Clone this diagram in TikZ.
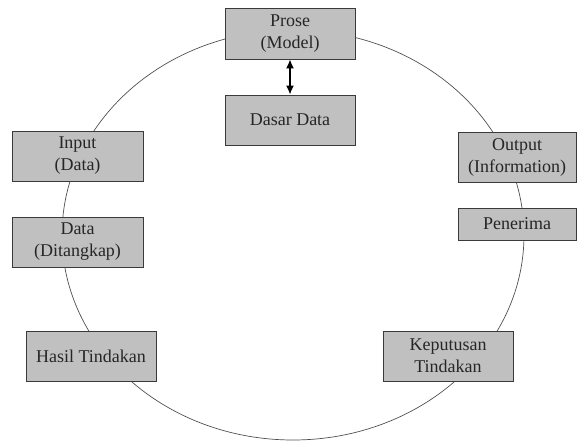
\documentclass[tikz,border=0pt]{standalone}
\usepackage{fontspec}
\setmainfont{Liberation Serif}
\usetikzlibrary{arrows.meta}
\definecolor{boxfill}{HTML}{C0C0C0}
\definecolor{boxline}{HTML}{3A3A3A}
\definecolor{ringcol}{HTML}{505050}
\begin{document}
\begin{tikzpicture}[x=1pt,y=-1pt,
  box/.style={draw=boxline,line width=0.9pt,fill=boxfill,inner sep=0pt,
    align=center,font=\rmfamily\fontsize{18}{22}\selectfont,text=black!85},
  ring/.style={draw=ringcol,line width=0.7pt}]
\useasboundingbox (0,0) rectangle (577,441);
\draw[ring] (293,235) ellipse [x radius=231pt, y radius=205pt];
\node[box,minimum width=130pt,minimum height=51pt] (prose) at (290,33.5) {Prose\\(Model)};
\node[box,minimum width=130pt,minimum height=50pt] (dasar) at (290,120) {Dasar Data};
\node[box,minimum width=131pt,minimum height=50pt] (input) at (77.5,156) {Input\\(Data)};
\node[box,minimum width=131pt,minimum height=50pt] (data) at (77.5,242) {Data\\(Ditangkap)};
\node[box,minimum width=118pt,minimum height=50pt] (output) at (517,157) {Output\\(Information)};
\node[box,minimum width=118pt,minimum height=32pt] (penerima) at (517,224) {Penerima};
\node[box,minimum width=130pt,minimum height=50pt] (hasil) at (91,356) {Hasil Tindakan};
\node[box,minimum width=130pt,minimum height=50pt] (keputusan) at (448,356) {Keputusan\\Tindakan};
\draw[line width=1.4pt,{Latex[length=9pt,width=8pt]}-{Latex[length=9pt,width=8pt]}] (prose.south) -- (dasar.north);
\end{tikzpicture}
\end{document}
